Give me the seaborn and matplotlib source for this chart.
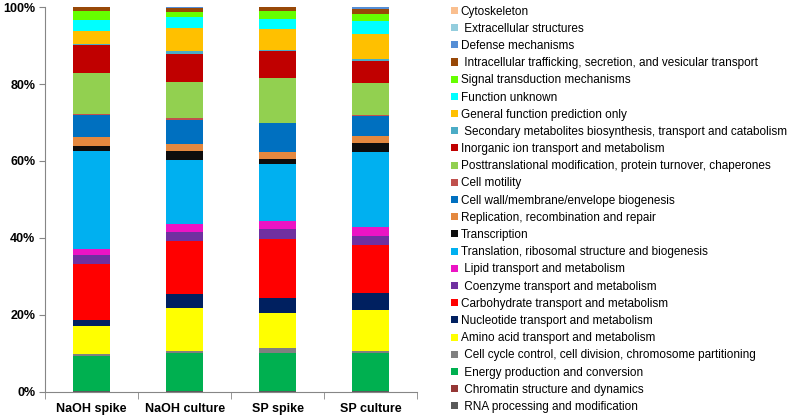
import numpy as np
import pandas as pd
import seaborn as sns
import matplotlib.pyplot as plt
from matplotlib.patches import Patch

# categories from bottom of the stack to the top
categories = [
    " RNA processing and modification",
    " Chromatin structure and dynamics",
    " Energy production and conversion",
    " Cell cycle control, cell division, chromosome partitioning",
    "Amino acid transport and metabolism",
    "Nucleotide transport and metabolism",
    "Carbohydrate transport and metabolism",
    " Coenzyme transport and metabolism",
    " Lipid transport and metabolism",
    "Translation, ribosomal structure and biogenesis",
    "Transcription",
    "Replication, recombination and repair",
    "Cell wall/membrane/envelope biogenesis",
    "Cell motility",
    "Posttranslational modification, protein turnover, chaperones",
    "Inorganic ion transport and metabolism",
    " Secondary metabolites biosynthesis, transport and catabolism",
    "General function prediction only",
    "Function unknown",
    "Signal transduction mechanisms",
    " Intracellular trafficking, secretion, and vesicular transport",
    "Defense mechanisms",
    " Extracellular structures",
    "Cytoskeleton",
]
colors = [
    "#595959", "#953735", "#00B050", "#808080", "#FFFF00", "#002060",
    "#FF0000", "#7030A0", "#EC14C4", "#00B0F0", "#0D0D0D", "#E4883F",
    "#0070C0", "#C0504D", "#92D050", "#C00000", "#4BACC6", "#FFC000",
    "#00FFFF", "#66FF00", "#984807", "#558ED5", "#93CDDD", "#FABF8F",
]

samples = ["NaOH spike", "NaOH culture", "SP spike", "SP culture"]

naoh_spike = [0.1, 0.1, 9.0, 0.7, 7.1, 1.8, 14.4, 2.4, 1.5, 25.6, 1.2, 2.4,
              5.6, 0.3, 10.6, 7.4, 0.3, 3.3, 2.9, 2.3, 1.0, 0.0, 0.0, 0.0]
naoh_culture = [0.1, 0.1, 9.8, 0.6, 11.1, 3.7, 13.9, 2.3, 2.0, 16.6, 2.3, 1.9,
                6.3, 0.5, 9.3, 7.4, 0.7, 5.9, 2.8, 1.3, 1.1, 0.3, 0.0, 0.0]
sp_spike = [0.1, 0.1, 9.9, 1.4, 8.9, 3.9, 15.4, 2.6, 2.0, 15.0, 1.1, 2.0,
            7.4, 0.1, 11.6, 7.2, 0.2, 5.5, 2.6, 2.1, 0.9, 0.0, 0.0, 0.0]
sp_culture = [0.1, 0.1, 9.8, 0.6, 10.8, 4.2, 12.6, 2.3, 2.3, 19.5, 2.4, 1.7,
              5.3, 0.3, 8.2, 5.9, 0.4, 6.4, 3.5, 1.9, 1.3, 0.4, 0.0, 0.0]

df = pd.DataFrame({"NaOH spike": naoh_spike, "NaOH culture": naoh_culture,
                   "SP spike": sp_spike, "SP culture": sp_culture},
                  index=categories)
cum = df.cumsum()

plt.rcParams["font.family"] = ["Liberation Sans", "DejaVu Sans"]

fig = plt.figure(figsize=(7.89, 4.16), dpi=100)
ax = fig.add_axes([0.057, 0.058, 0.472, 0.925])

# draw cumulative totals from the top down so each layer covers the one above
for i in range(len(categories) - 1, -1, -1):
    layer = pd.DataFrame({"sample": samples, "value": cum.iloc[i].values})
    sns.barplot(data=layer, x="sample", y="value", color=colors[i],
                width=0.4, linewidth=0, saturation=1, ax=ax)

ax.set_ylim(0, 100)
ax.set_xlim(-0.5, 3.5)
ax.set_yticks(np.arange(0, 101, 20))
ax.set_yticklabels([f"{v}%" for v in range(0, 101, 20)],
                   fontsize=9, fontweight="bold")
ax.set_xticks(range(4))
ax.set_xticklabels(samples, fontsize=9, fontweight="bold")
ax.set_xlabel("")
ax.set_ylabel("")
ax.tick_params(axis="x", length=0, pad=8)
ax.tick_params(axis="y", length=4, color="#868686", pad=3)
# tick marks between categories on the x axis
ax.set_xticks(np.arange(-0.5, 4, 1), minor=True)
ax.tick_params(axis="x", which="minor", length=5, color="#868686")
for side in ["top", "right"]:
    ax.spines[side].set_visible(False)
for side in ["left", "bottom"]:
    ax.spines[side].set_color("#868686")
    ax.spines[side].set_linewidth(0.8)

handles = [Patch(facecolor=colors[i], edgecolor="none", label=categories[i])
           for i in range(len(categories) - 1, -1, -1)]
fig.legend(handles=handles, loc="upper left", bbox_to_anchor=(0.566, 0.998),
           frameon=False, fontsize=8.5, handlelength=0.55, handleheight=0.55,
           handletextpad=0.25, labelspacing=0.44, borderaxespad=0)

fig.savefig("out.png", dpi=100)
